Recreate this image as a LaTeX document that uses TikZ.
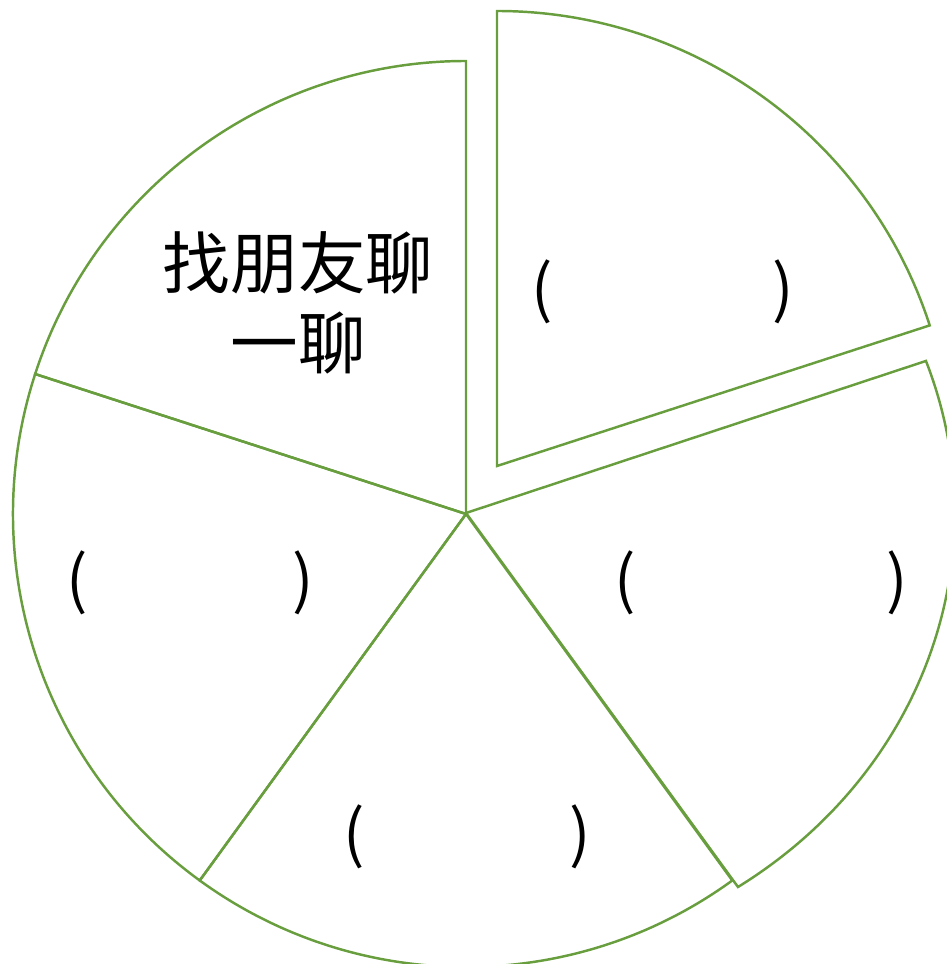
\documentclass[tikz,border=0pt]{standalone}
\usepackage{fontspec}
\newfontfamily\cjk{Noto Sans CJK SC}
\definecolor{piegreen}{RGB}{104,158,62}
\tikzset{
  sector/.style={draw=piegreen, line width=1.4pt, line join=miter},
  cjklabel/.style={font=\cjk\fontsize{38.5}{45.5}\selectfont, align=center, inner sep=0pt},
  paren/.style={font=\cjk\fontsize{36}{40}\selectfont, inner sep=0pt}
}
\begin{document}
\begin{tikzpicture}[x=0.02cm, y=0.02cm]
\useasboundingbox (0,0) rectangle (947,964);
\clip (0,0) rectangle (947,964);
% centres of the pie pieces
\coordinate (c) at (466,450);
\coordinate (rc) at (466,451);
\coordinate (tc) at (497,498);
% top-left piece
\draw[sector] (c) -- +(90:453) arc[start angle=90, end angle=162, radius=453] -- cycle;
% left piece
\draw[sector] (c) -- +(162:453) arc[start angle=162, end angle=234, radius=453] -- cycle;
% bottom piece
\draw[sector] (c) -- +(234:453) arc[start angle=234, end angle=306, radius=453] -- cycle;
% right piece (slightly pulled out)
\draw[sector] (rc) -- +({488.7*cos(19.74)},{450.2*sin(19.74)})
  arc[start angle=19.74, end angle=-56.18, x radius=488.7, y radius=450.2] -- cycle;
% top-right piece (pulled out)
\draw[sector] (tc) -- +(90:455) arc[start angle=90, end angle=18, radius=455] -- cycle;
% texts
\node[cjklabel] (title) at (298,661) {找朋友聊\\一聊};
\node[paren] (trl) at (542,672) {(};
\node[paren] (trr) at (783,672) {)};
\node[paren] (rl) at (625,381) {(};
\node[paren] (rr) at (897,381) {)};
\node[paren] (ll) at (77,381) {(};
\node[paren] (lr) at (303,381) {)};
\node[paren] (bl) at (354,127) {(};
\node[paren] (br) at (580,127) {)};
\end{tikzpicture}
\end{document}
